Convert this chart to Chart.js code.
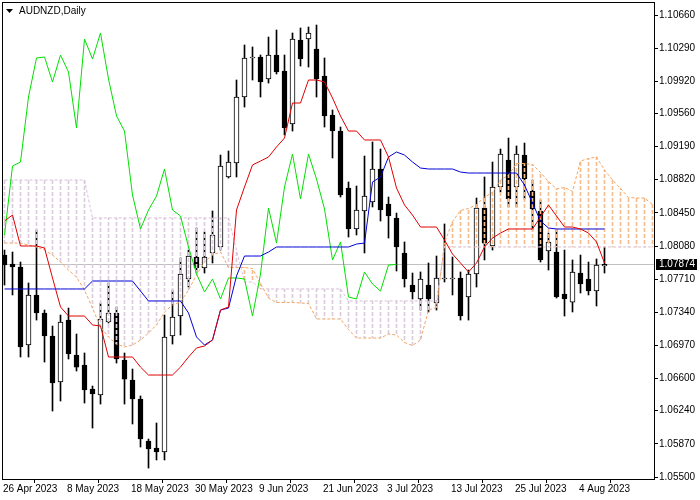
<!DOCTYPE html>
<html>
<head>
<meta charset="utf-8">
<script src="https://cdn.jsdelivr.net/npm/chart.js@4.4.1/dist/chart.umd.min.js"></script>
<style>
  body { margin: 0; background: #fff; }
</style>
</head>
<body>
<canvas id="chart" width="700" height="500"></canvas>
<script>
// AUDNZD daily, 26 Apr 2023 .. 9 Aug 2023 (76 bars)
const opens = [1.07979, 1.07879, 1.07845, 1.06974, 1.07533, 1.07332, 1.07075, 1.06561, 1.07253, 1.06863,
  1.06751, 1.06483, 1.06416, 1.07231, 1.07332, 1.06807, 1.06583, 1.06371, 1.05902, 1.05824,
  1.05779, 1.07075, 1.07298, 1.07711, 1.07957, 1.07834, 1.08002, 1.08069, 1.08851, 1.09007,
  1.09744, 1.10180, 1.10191, 1.09945, 1.10213, 1.10035, 1.09443, 1.10381, 1.10392, 1.10280,
  1.09979, 1.09543, 1.09364, 1.08728, 1.08270, 1.08471, 1.08571, 1.08940, 1.08549, 1.08393,
  1.08002, 1.07644, 1.07488, 1.07644, 1.07443, 1.07711, 1.07711, 1.07723, 1.07510, 1.07767,
  1.08504, 1.08080, 1.08739, 1.09040, 1.08739, 1.09096, 1.08694, 1.08471, 1.08024, 1.08013,
  1.07544, 1.07454, 1.07778, 1.07711, 1.07577, 1.07857];
const highs = [1.08035, 1.08013, 1.07901, 1.07667, 1.08259, 1.07365, 1.07186, 1.07309, 1.07387, 1.07097,
  1.06885, 1.06516, 1.07443, 1.07667, 1.07399, 1.06885, 1.06706, 1.06405, 1.05924, 1.06103,
  1.07309, 1.07588, 1.07946, 1.08035, 1.08281, 1.08236, 1.08471, 1.09096, 1.09141, 1.09934,
  1.10325, 1.10303, 1.10213, 1.10414, 1.10492, 1.10213, 1.10459, 1.10515, 1.10526, 1.10548,
  1.10180, 1.09599, 1.09409, 1.08795, 1.08750, 1.09085, 1.09242, 1.09163, 1.08627, 1.08448,
  1.08125, 1.07778, 1.07790, 1.07890, 1.07968, 1.08326, 1.07957, 1.07790, 1.07812, 1.08616,
  1.08851, 1.09018, 1.09163, 1.09286, 1.09197, 1.09230, 1.08817, 1.08594, 1.08225, 1.08259,
  1.08035, 1.07924, 1.07979, 1.07901, 1.07935, 1.08069];
const lows = [1.07644, 1.07533, 1.06840, 1.06840, 1.07253, 1.06784, 1.06237, 1.06349, 1.06818, 1.06684,
  1.06326, 1.06047, 1.06315, 1.07220, 1.06773, 1.06315, 1.06092, 1.05835, 1.05600, 1.05690,
  1.05690, 1.06985, 1.07086, 1.07622, 1.07778, 1.07778, 1.07890, 1.08035, 1.08839, 1.08851,
  1.09632, 1.09934, 1.09744, 1.09900, 1.10001, 1.09320, 1.09364, 1.10090, 1.10079, 1.09744,
  1.09409, 1.09063, 1.08627, 1.08180, 1.08203, 1.08002, 1.08516, 1.08359, 1.08169, 1.07801,
  1.07622, 1.07488, 1.07365, 1.07343, 1.07365, 1.07678, 1.07533, 1.07253, 1.07253, 1.07622,
  1.07924, 1.08035, 1.08683, 1.08516, 1.08516, 1.08605, 1.08259, 1.07901, 1.07812, 1.07499,
  1.07298, 1.07343, 1.07555, 1.07533, 1.07410, 1.07778];
const closes = [1.07868, 1.07845, 1.06952, 1.07533, 1.07332, 1.07075, 1.06550, 1.07231, 1.06874, 1.06728,
  1.06472, 1.06427, 1.07265, 1.07332, 1.06818, 1.06594, 1.06371, 1.05924, 1.05813, 1.05779,
  1.07064, 1.07287, 1.07767, 1.07968, 1.07834, 1.07957, 1.08203, 1.08973, 1.09018, 1.09744,
  1.10180, 1.10191, 1.09912, 1.10213, 1.10023, 1.09398, 1.10392, 1.10169, 1.10459, 1.09945,
  1.09532, 1.09364, 1.08650, 1.08270, 1.08482, 1.08638, 1.08940, 1.08482, 1.08415, 1.08069,
  1.07711, 1.07566, 1.07711, 1.07488, 1.07723, 1.07723, 1.07716, 1.07298, 1.07767, 1.08504,
  1.08113, 1.08739, 1.09107, 1.08605, 1.09107, 1.08828, 1.08493, 1.07924, 1.08125, 1.07510,
  1.07488, 1.07790, 1.07656, 1.07577, 1.07868, 1.07874];

// Ichimoku
const tenkan = [1.08359, 1.08426, 1.08080, 1.08080, 1.08080, 1.08058, 1.07723, 1.07399, 1.07298, 1.07298,
  1.07298, 1.07198, 1.07186, 1.06840, 1.06840, 1.06840, 1.06840, 1.06728, 1.06639, 1.06639,
  1.06639, 1.06639, 1.06728, 1.06840, 1.06941, 1.06963, 1.07030, 1.07365, 1.07399, 1.08482,
  1.08739, 1.08985, 1.09029, 1.09074, 1.09186, 1.09286, 1.09677, 1.09677, 1.09934, 1.09934,
  1.09912, 1.09733, 1.09532, 1.09364, 1.09364, 1.09264, 1.09264, 1.09264, 1.09074, 1.08728,
  1.08538, 1.08426, 1.08292, 1.08292, 1.08292, 1.08147, 1.07991, 1.07890, 1.07790, 1.07890,
  1.08069, 1.08169, 1.08225, 1.08270, 1.08270, 1.08270, 1.08270, 1.08404, 1.08538, 1.08415,
  1.08292, 1.08292, 1.08270, 1.08225, 1.08125, 1.07890];
const kijun = [1.07600, 1.07600, 1.07600, 1.07600, 1.07600, 1.07600, 1.07600, 1.07600, 1.07600, 1.07600,
  1.07600, 1.07689, 1.07689, 1.07689, 1.07689, 1.07689, 1.07689, 1.07577, 1.07466, 1.07466,
  1.07466, 1.07466, 1.07466, 1.07332, 1.07064, 1.06974, 1.07030, 1.07365, 1.07387, 1.07745,
  1.07968, 1.07968, 1.07968, 1.08013, 1.08069, 1.08069, 1.08069, 1.08069, 1.08069, 1.08069,
  1.08069, 1.08069, 1.08069, 1.08069, 1.08102, 1.08113, 1.08795, 1.08851, 1.09074, 1.09130,
  1.09096, 1.09018, 1.08951, 1.08940, 1.08940, 1.08940, 1.08940, 1.08906, 1.08895, 1.08895,
  1.08895, 1.08895, 1.08895, 1.08895, 1.08895, 1.08761, 1.08560, 1.08359, 1.08281, 1.08270,
  1.08270, 1.08270, 1.08270, 1.08270, 1.08270, 1.08270];
const chikou = [1.08203, 1.08973, 1.09018, 1.09744, 1.10180, 1.10191, 1.09912, 1.10213, 1.10023, 1.09398,
  1.10392, 1.10169, 1.10459, 1.09945, 1.09532, 1.09364, 1.08650, 1.08270, 1.08482, 1.08638,
  1.08940, 1.08482, 1.08415, 1.08069, 1.07770, 1.07566, 1.07711, 1.07488, 1.07723, 1.07723,
  1.07711, 1.07298, 1.07767, 1.08504, 1.08113, 1.08739, 1.09107, 1.08605, 1.09107, 1.08828,
  1.08493, 1.07924, 1.08125, 1.07510, 1.07488, 1.07790, 1.07656, 1.07577, 1.07868, 1.07874];
const spanA = [1.08113, 1.08113, 1.08113, 1.08091, 1.08069, 1.08035, 1.07979, 1.07901, 1.07812, 1.07734,
  1.07588, 1.07387, 1.07175, 1.07064, 1.06985, 1.06952, 1.06974, 1.07030, 1.07108, 1.07198,
  1.07343, 1.07421, 1.07454, 1.07588, 1.07756, 1.07901, 1.07979, 1.08013, 1.07840, 1.07840,
  1.07840, 1.07829, 1.07661, 1.07499, 1.07449, 1.07449, 1.07449, 1.07443, 1.07438, 1.07265,
  1.07265, 1.07265, 1.07265, 1.07147, 1.07052, 1.07052, 1.07052, 1.07052, 1.07097, 1.07086,
  1.07002, 1.06969, 1.07030, 1.07365, 1.07393, 1.08113, 1.08354, 1.08476, 1.08499, 1.08543,
  1.08627, 1.08678, 1.08817, 1.08873, 1.09001, 1.09001, 1.08990, 1.08901, 1.08800, 1.08717,
  1.08733, 1.08689, 1.09029, 1.09057, 1.09074, 1.08929, 1.08817, 1.08722, 1.08622, 1.08616,
  1.08616, 1.08543];
const spanB = [1.08817, 1.08817, 1.08817, 1.08817, 1.08817, 1.08817, 1.08817, 1.08817, 1.08817, 1.08817,
  1.08817, 1.08393, 1.08393, 1.08393, 1.08393, 1.08393, 1.08393, 1.08393, 1.08393, 1.08393,
  1.08393, 1.08393, 1.08393, 1.08393, 1.08393, 1.08393, 1.08393, 1.08393, 1.08393, 1.08035,
  1.07678, 1.07678, 1.07600, 1.07600, 1.07600, 1.07600, 1.07600, 1.07600, 1.07600, 1.07600,
  1.07600, 1.07600, 1.07600, 1.07466, 1.07466, 1.07466, 1.07466, 1.07466, 1.07466, 1.07466,
  1.07466, 1.07466, 1.07466, 1.07466, 1.07466, 1.08069, 1.08069, 1.08069, 1.08069, 1.08069,
  1.08069, 1.08069, 1.08069, 1.08069, 1.08069, 1.08069, 1.08069, 1.08069, 1.08069, 1.08069,
  1.08069, 1.08069, 1.08069, 1.08069, 1.08069, 1.08069, 1.08069, 1.08069, 1.08069, 1.08069,
  1.08069, 1.08069];

const dateTicks = ['26 Apr 2023', '8 May 2023', '18 May 2023', '30 May 2023', '9 Jun 2023',
  '21 Jun 2023', '3 Jul 2023', '13 Jul 2023', '25 Jul 2023', '4 Aug 2023'];
const dateTickBars = [0, 8, 16, 24, 32, 40, 48, 56, 64, 72];
const priceTicks = [1.05500, 1.05870, 1.06240, 1.06600, 1.06970, 1.07340, 1.07710, 1.08080,
  1.08450, 1.08820, 1.09190, 1.09560, 1.09920, 1.10290, 1.10660];
const lastPrice = 1.07874;
const symbolTitle = 'AUDNZD,Daily';

const FONT = '"Liberation Sans", Arial, sans-serif';
Chart.defaults.font.family = FONT;
Chart.defaults.font.size = 10;
Chart.defaults.color = '#000';

const canvas = document.getElementById('chart');
const ctx = canvas.getContext('2d');

// dashed hatching for the cloud, one vertical line per bar
function dashPattern(color) {
  const c = document.createElement('canvas');
  c.width = 1; c.height = 6;
  const g = c.getContext('2d');
  g.fillStyle = color;
  g.fillRect(0, 0, 1, 4);
  return ctx.createPattern(c, 'repeat');
}
const sandyDash = dashPattern('#f7bc8c');
const thistleDash = dashPattern('#dccbdc');

const pts = arr => arr.map((v, i) => ({ x: i, y: v }));

const frame = {
  id: 'frame',
  beforeDatasetsDraw(chart) {
    const { ctx, chartArea: a, scales: { y } } = chart;
    const py = Math.round(y.getPixelForValue(lastPrice)) + 0.5;
    ctx.save();
    ctx.strokeStyle = '#c0c0c0';
    ctx.lineWidth = 1;
    ctx.beginPath();
    ctx.moveTo(a.left, py);
    ctx.lineTo(a.right, py);
    ctx.stroke();
    ctx.restore();
  },
  afterDraw(chart) {
    const { ctx, chartArea: a, scales: { y } } = chart;
    ctx.save();
    ctx.strokeStyle = '#000';
    ctx.lineWidth = 1;
    ctx.strokeRect(a.left + 0.5, a.top + 0.5, a.right - a.left, a.bottom - a.top);
    // title
    ctx.fillStyle = '#000';
    ctx.beginPath();
    ctx.moveTo(6, 9); ctx.lineTo(13, 9); ctx.lineTo(9.5, 13); ctx.closePath();
    ctx.fill();
    ctx.font = '10px ' + FONT;
    ctx.textBaseline = 'middle';
    ctx.fillText(symbolTitle, 19, 11);
    // current price tag
    const py = Math.round(y.getPixelForValue(lastPrice));
    ctx.fillRect(656, py - 5, 41, 11);
    ctx.fillStyle = '#fff';
    ctx.fillText(lastPrice.toFixed(5), 659, py + 0.5);
    ctx.restore();
  }
};

new Chart(ctx, {
  type: 'bar',
  data: {
    datasets: [
      { type: 'line', label: 'Tenkan-sen', data: pts(tenkan), borderColor: '#e00000', borderWidth: 1, pointRadius: 0, order: 1 },
      { type: 'line', label: 'Kijun-sen', data: pts(kijun), borderColor: '#0000d8', borderWidth: 1, pointRadius: 0, order: 1 },
      { type: 'line', label: 'Chikou Span', data: pts(chikou), borderColor: '#00e000', borderWidth: 1, pointRadius: 0, order: 1 },
      { type: 'line', label: 'Senkou Span A', data: pts(spanA), borderColor: '#f4a460', borderWidth: 1, borderDash: [3, 2], pointRadius: 0, order: 2 },
      { type: 'line', label: 'Senkou Span B', data: pts(spanB), borderColor: '#d8bfd8', borderWidth: 1, borderDash: [3, 2], pointRadius: 0, order: 2 },
      {
        label: 'Kumo',
        data: spanA.map((a, i) => ({ x: i, y: [a, spanB[i]] })),
        backgroundColor: c => spanA[c.dataIndex] >= spanB[c.dataIndex] ? sandyDash : thistleDash,
        grouped: false, barThickness: 1, maxBarThickness: 1, order: 3
      },
      {
        label: 'Body',
        data: opens.map((o, i) => ({ x: i, y: [o, closes[i]] })),
        backgroundColor: c => closes[c.dataIndex] >= opens[c.dataIndex] ? '#fff' : '#000',
        borderColor: '#000', borderWidth: 1, borderSkipped: false, minBarLength: 1,
        grouped: false, barThickness: 5, maxBarThickness: 5, order: 4
      },
      {
        label: 'Wick',
        data: lows.map((l, i) => ({ x: i, y: [l, highs[i]] })),
        backgroundColor: '#000',
        grouped: false, barThickness: 1, maxBarThickness: 1, order: 5
      }
    ]
  },
  options: {
    responsive: false,
    animation: false,
    devicePixelRatio: 1,
    layout: { padding: { left: 2, top: 2, right: 0, bottom: 0 } },
    plugins: { legend: { display: false }, tooltip: { enabled: false } },
    scales: {
      x: {
        type: 'linear',
        min: -0.3125,
        max: 81.1875,
        offset: false,
        grid: { drawOnChartArea: false, drawTicks: true, tickLength: 4, color: '#000' },
        border: { display: true, color: '#000' },
        ticks: { autoSkip: false, maxRotation: 0, align: 'start', padding: 0,
          callback: (v, i) => dateTicks[i] },
        afterBuildTicks: s => { s.ticks = dateTickBars.map(b => ({ value: b - 0.2 })); },
        afterFit: s => { s.height = 21; s.paddingLeft = 0; s.paddingRight = 0; }
      },
      y: {
        type: 'linear',
        position: 'right',
        min: 1.054777,
        max: 1.108052,
        grid: { drawOnChartArea: false, drawTicks: true, tickLength: 4, color: '#000' },
        border: { display: true, color: '#000' },
        ticks: { autoSkip: false, padding: 1, callback: v => v.toFixed(5) },
        afterBuildTicks: s => { s.ticks = priceTicks.map(v => ({ value: v })); },
        afterFit: s => { s.width = 46; s.paddingTop = 0; s.paddingBottom = 0; }
      }
    }
  },
  plugins: [frame]
});
</script>
</body>
</html>
